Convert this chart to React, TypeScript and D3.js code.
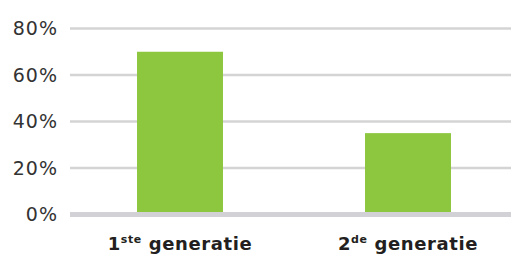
import React, { useEffect, useRef } from 'react';
import * as d3 from 'd3';

const categories = ['1', '2'];
const suffixes = ['ste', 'de'];
const values = [70, 35];
const yTicks = [0, 20, 40, 60, 80];

const App: React.FC = () => {
  const svgRef = useRef<SVGSVGElement>(null);

  useEffect(() => {
    document.body.style.margin = '0';
    if (!svgRef.current) return;

    const width = 511;
    const svg = d3.select(svgRef.current);
    svg.selectAll('*').remove();

    const y = d3.scaleLinear().domain([0, 80]).range([214.5, 28.5]);
    const x = d3.scaleBand<string>()
      .domain(categories)
      .range([66, 522])
      .paddingInner(0.623)
      .paddingOuter(0.3115);

    // Grid lines
    svg.append('g')
      .selectAll('line')
      .data(yTicks.filter(d => d > 0))
      .join('line')
      .attr('x1', 70)
      .attr('x2', width)
      .attr('y1', d => y(d))
      .attr('y2', d => y(d))
      .attr('stroke', '#d4d4d4')
      .attr('stroke-width', 2.5);

    // Y labels
    svg.append('g')
      .selectAll('text')
      .data(yTicks)
      .join('text')
      .attr('x', 58)
      .attr('y', d => y(d))
      .attr('dy', '0.35em')
      .attr('text-anchor', 'end')
      .attr('font-family', 'DejaVu Sans, Verdana, sans-serif')
      .attr('font-size', '19px')
      .attr('letter-spacing', '1px')
      .attr('fill', '#333333')
      .text(d => `${d}%`);

    // Bars
    svg.append('g')
      .selectAll('rect')
      .data(values)
      .join('rect')
      .attr('x', (_, i) => x(categories[i])!)
      .attr('width', x.bandwidth())
      .attr('y', d => y(d))
      .attr('height', d => y(0) - y(d))
      .attr('fill', '#8dc63f');

    // Baseline
    svg.append('line')
      .attr('x1', 70)
      .attr('x2', width)
      .attr('y1', y(0))
      .attr('y2', y(0))
      .attr('stroke', '#d2d2d6')
      .attr('stroke-width', 5);

    // X labels
    categories.forEach((c, i) => {
      const t = svg.append('text')
        .attr('x', x(c)! + x.bandwidth() / 2)
        .attr('y', 250)
        .attr('text-anchor', 'middle')
        .attr('font-family', 'DejaVu Sans, Verdana, sans-serif')
        .attr('font-weight', 'bold')
        .attr('font-size', '18px')
        .attr('letter-spacing', '0.6px')
        .attr('fill', '#231f20');
      t.append('tspan').text(c);
      t.append('tspan')
        .attr('font-size', '11px')
        .attr('dy', -7)
        .text(suffixes[i]);
      t.append('tspan')
        .attr('dy', 7)
        .text(' generatie');
    });
  }, []);

  return <svg ref={svgRef} width={511} height={254} style={{ display: 'block' }}></svg>;
};

export default App;
